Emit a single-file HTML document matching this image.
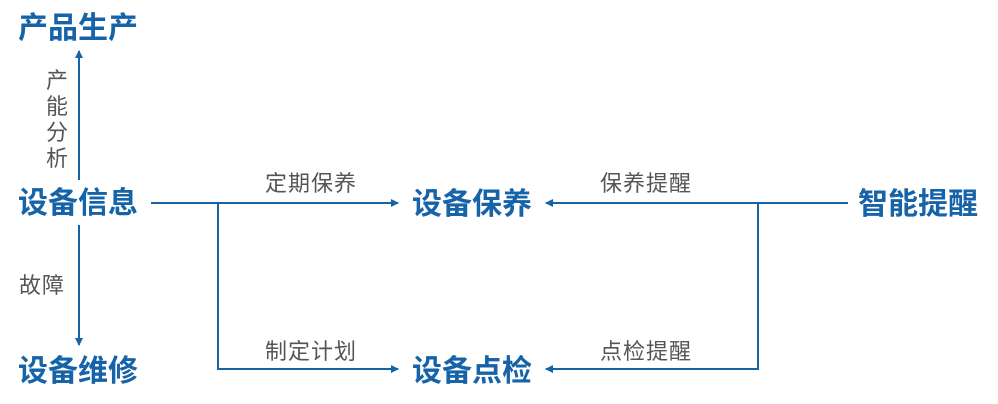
<!DOCTYPE html>
<html><head><meta charset="utf-8"><style>
html,body{margin:0;padding:0;background:#fff;}
svg{display:block;}
.b{font-family:"Liberation Sans","Noto Sans CJK SC",sans-serif;font-weight:bold;font-size:30px;fill:#1763a8;}
.g{font-family:"Liberation Sans","Noto Sans CJK SC",sans-serif;font-size:22px;fill:#555;letter-spacing:1px;}
</style></head><body>
<svg width="998" height="404" viewBox="0 0 998 404" xmlns="http://www.w3.org/2000/svg">
<defs><marker id="a" markerWidth="8" markerHeight="8" refX="7" refY="4" orient="auto" markerUnits="userSpaceOnUse"><path d="M0,0 L8,4 L0,8 z" fill="#1763a8"/></marker></defs>
<g stroke="#1763a8" stroke-width="2" fill="none">
<line x1="79" y1="180" x2="79" y2="51" marker-end="url(#a)"/>
<line x1="79" y1="225" x2="79" y2="345" marker-end="url(#a)"/>
<line x1="151" y1="203" x2="398" y2="203" marker-end="url(#a)"/>
<polyline points="218,203 218,369 398,369" marker-end="url(#a)"/>
<line x1="848" y1="203" x2="546" y2="203" marker-end="url(#a)"/>
<polyline points="758,203 758,369 546,369" marker-end="url(#a)"/>
</g>
<text class="b" x="18" y="38">产品生产</text>
<text class="b" x="18" y="213">设备信息</text>
<text class="b" x="18" y="381">设备维修</text>
<text class="b" x="412" y="214">设备保养</text>
<text class="b" x="412" y="381">设备点检</text>
<text class="b" x="858" y="214">智能提醒</text>
<text class="g" x="46" y="88">产</text>
<text class="g" x="46" y="114">能</text>
<text class="g" x="46" y="140">分</text>
<text class="g" x="46" y="166">析</text>
<text class="g" x="19" y="293">故障</text>
<text class="g" x="265" y="191">定期保养</text>
<text class="g" x="265" y="359">制定计划</text>
<text class="g" x="600" y="191">保养提醒</text>
<text class="g" x="600" y="359">点检提醒</text>
</svg>
</body></html>
